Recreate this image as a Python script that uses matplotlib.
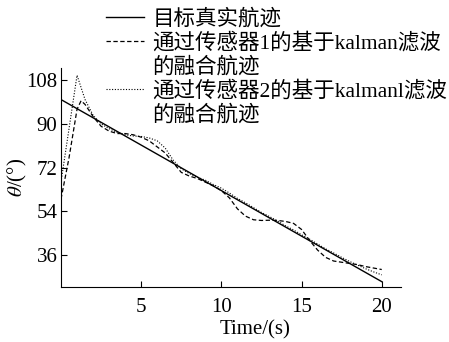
import matplotlib
matplotlib.use("Agg")
import matplotlib.pyplot as plt
from matplotlib.lines import Line2D

plt.rcParams['font.family'] = ['Liberation Serif', 'Noto Sans CJK SC']
plt.rcParams['mathtext.fontset'] = 'stix'

# 目标真实航迹
t_true = [0, 20]
v_true = [100, 25]

# 传感器1 (虚线)
t_s1 = [0, 0.5, 1.0, 1.25, 1.5, 2.0, 2.5, 3.0, 3.5, 4.0, 4.5, 5.0, 5.5, 6.0, 6.5,
        7.0, 7.5, 8.0, 8.5, 9.0, 9.5, 10.0, 10.5, 11.0, 11.5, 12.0, 12.5, 13.0,
        13.5, 14.0, 14.5, 15.0, 15.5, 16.0, 16.5, 17.0, 17.5, 18.0, 18.5, 19.0,
        19.5, 20.0]
v_s1 = [59, 76, 96, 99.5, 98, 93, 89, 87, 86, 86, 85.5, 84.5, 83, 80.5, 78,
        74, 70, 68.5, 67.5, 66, 64.5, 62.5, 59.5, 55, 52, 50.5, 50.2, 50.3,
        50.2, 49.8, 49, 46.5, 42, 38, 35, 33.5, 33, 32.5, 32, 31.2,
        30.6, 30]

# 传感器2 (点线)
t_s2 = [0, 0.5, 1.0, 1.5, 2.0, 2.5, 3.0, 3.5, 4.0, 4.5, 5.0, 5.5, 6.0, 6.5,
        7.0, 7.5, 8.0, 8.5, 9.0, 9.5, 10.0, 10.5, 11.0, 11.5, 12.0, 12.5, 13.0,
        13.5, 14.0, 14.5, 15.0, 15.5, 16.0, 16.5, 17.0, 17.5, 18.0, 18.5, 19.0,
        19.5, 20.0]
v_s2 = [66, 88, 110, 100, 93.5, 90, 88, 86.5, 85.5, 85, 84.8, 84.2, 83, 80,
        75, 71.5, 69.5, 68, 66.8, 65, 63.5, 61.5, 59.3, 57.5, 55.5, 53.5, 51.8,
        50, 48, 46.3, 44.3, 42.5, 40.5, 38.5, 36.8, 35, 33.3, 31.8, 30.3,
        29, 27.8]

# 图例每行一条 (第二行无线型)
labels = ['目标真实航迹',
          '通过传感器1的基于kalman滤波',
          '的融合航迹',
          '通过传感器2的基于kalmanl滤波',
          '的融合航迹']

xticks = [5, 10, 15, 20]
yticks = [36, 54, 72, 90, 108]

fig = plt.figure(figsize=(4.49, 3.42), dpi=100)
ax = fig.add_axes([61 / 449, 55 / 342, 340 / 449, 219 / 342])

l1, = ax.plot(t_true, v_true, color='black', lw=1.0)
l2, = ax.plot(t_s1, v_s1, color='black', lw=0.9, ls=(0, (3.5, 2)))
l3, = ax.plot(t_s2, v_s2, color='black', lw=0.8, ls=(0, (1, 1.5)))
blank = Line2D([], [], lw=0)

ax.set_xlim(0, 21.2)
ax.set_ylim(22.8, 113)
ax.set_xticks(xticks)
ax.set_yticks(yticks)
ax.spines['top'].set_visible(False)
ax.spines['right'].set_visible(False)
ax.tick_params(direction='in', length=4, labelsize=15)
ax.tick_params(axis='x', pad=8)
ax.tick_params(axis='y', pad=2.5)

ax.set_xlabel('Time/(s)', fontsize=15)
ax.xaxis.set_label_coords(0.57, -0.15)
ax.set_ylabel(r'$\theta$/(°)', fontsize=15)
ax.yaxis.set_label_coords(-0.095, 0.5)

leg = fig.legend([l1, l2, blank, l3, blank], labels, loc='upper left',
                 bbox_to_anchor=(106 / 449, 1 - 9 / 342), frameon=False,
                 fontsize=15.5, borderpad=0, borderaxespad=0,
                 handlelength=1.75, handletextpad=0.4, labelspacing=0.15)

fig.savefig('out.png', dpi=100)
